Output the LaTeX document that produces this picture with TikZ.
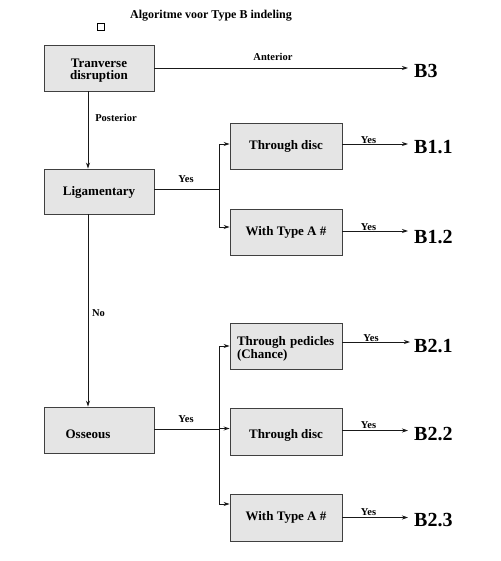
\documentclass[tikz,border=0pt]{standalone}
\usepackage{fontspec}
\setmainfont{Liberation Serif}
\usetikzlibrary{arrows.meta}
\begin{document}
\begin{tikzpicture}[x=1pt,y=-1pt,
  box/.style={draw=black!75,line width=0.9pt,fill=black!10,minimum width=110pt,minimum height=46pt,inner sep=2pt,font=\fontsize{13}{12}\selectfont\bfseries,align=center},
  rbox/.style={box,minimum width=112pt},
  res/.style={inner xsep=6pt,inner ysep=0pt,anchor=west,font=\fontsize{20}{20}\selectfont\bfseries},
  lab/.style={inner sep=0pt,font=\fontsize{10.5}{10}\selectfont\bfseries},
  conn/.style={line width=0.9pt,draw=black!90},
  arr/.style={conn,-{Stealth[length=6pt,width=4pt]}}]
\useasboundingbox (0,0) rectangle (500,561);
% title and small square
\node[inner sep=0pt,font=\fontsize{12}{12}\selectfont\bfseries] (title) at (211,16) {Algoritme voor Type B indeling};
\node[draw,line width=0.6pt,minimum size=7pt,inner sep=0pt] (sq) at (100.5,26.5) {};
% left column
\node[box] (tra) at (99,68) {\rule{0pt}{13pt}Tranverse\\disruption};
\node[box,minimum height=45pt] (lig) at (99,191.5) {\raisebox{1pt}[\height][0pt]{Ligamentary}};
\node[box] (oss) at (99,430) {\hspace*{-22pt}\raisebox{-4pt}[\height][0pt]{Osseous}};
% right column
\node[rbox] (disc1) at (286,146) {Through disc};
\node[rbox] (typa1) at (286,232) {With Type A \#};
\node[rbox,text width=98pt,inner xsep=7pt,align=left,font=\fontsize{13}{11}\selectfont\bfseries] (ped) at (286,346) {\rule{0pt}{15pt}Through pedicles\\(Chance)};
\node[rbox,minimum height=47pt] (disc2) at (286,431.5) {\raisebox{-2pt}[\height][0pt]{Through disc}};
\node[rbox,minimum height=47pt] (typa2) at (286,517.5) {With Type A \#};
% results
\node[res] (b3) at (408,70.5) {B3};
\node[res] (b11) at (408,147.5) {B1.1};
\node[res] (b12) at (408,237) {B1.2};
\node[res,inner xsep=4pt] (b21) at (410,346.5) {B2.1};
\node[res] (b22) at (408,434) {B2.2};
\node[res] (b23) at (408,520.5) {B2.3};
% junctions and port points
\coordinate (j1) at (219,189);
\coordinate (j2) at (219,429.3);
\coordinate (d1w) at ([yshift=2pt]disc1.west);
\coordinate (t1w) at ([yshift=5pt]typa1.west);
\coordinate (d2w) at ([yshift=3pt]disc2.west);
\coordinate (t2w) at ([yshift=13.5pt]typa2.west);
\coordinate (d1e) at ([yshift=2pt]disc1.east);
\coordinate (t1e) at ([yshift=1pt]typa1.east);
\coordinate (pe) at ([yshift=4pt]ped.east);
\coordinate (d2e) at ([yshift=1pt]disc2.east);
\coordinate (tlo) at ([xshift=-11pt]tra.south);
\coordinate (lgt) at ([xshift=-11pt]lig.north);
\coordinate (lgb) at ([xshift=-11pt]lig.south);
\coordinate (ost) at ([xshift=-11pt]oss.north);
% connectors
\draw[arr] (tra.east) -- (b3.west |- tra.east);
\draw[arr] (tlo) -- (lgt);
\draw[arr] (lgb) -- (ost);
\draw[conn] (lig.east |- j1) -- (j1);
\draw[arr] (j1) |- (d1w);
\draw[arr] (j1) |- (t1w);
\draw[conn] (oss.east |- j2) -- (j2);
\draw[arr] (j2) |- (ped.west);
\draw[arr] (j2) |- (d2w);
\draw[arr] (j2) |- (t2w);
\draw[arr] (d1e) -- (b11.west |- d1e);
\draw[arr] (t1e) -- (b12.west |- t1e);
\draw[arr] (pe) -- (b21.west |- pe);
\draw[arr] (d2e) -- (b22.west |- d2e);
\draw[arr] (typa2.east) -- (b23.west |- typa2.east);
% labels
\node[lab] (lant) at (273,57) {Anterior};
\node[lab] (lpost) at (116,118) {Posterior};
\node[lab] (lyes1) at (186,179) {Yes};
\node[lab] (lno) at (98.5,313) {No};
\node[lab] (lyes2) at (186,419) {Yes};
\node[lab] (ly11) at (368.5,140) {Yes};
\node[lab] (ly12) at (368.5,227) {Yes};
\node[lab] (ly21) at (371,338) {Yes};
\node[lab] (ly22) at (368.5,425) {Yes};
\node[lab] (ly23) at (368.5,512) {Yes};
\end{tikzpicture}
\end{document}
